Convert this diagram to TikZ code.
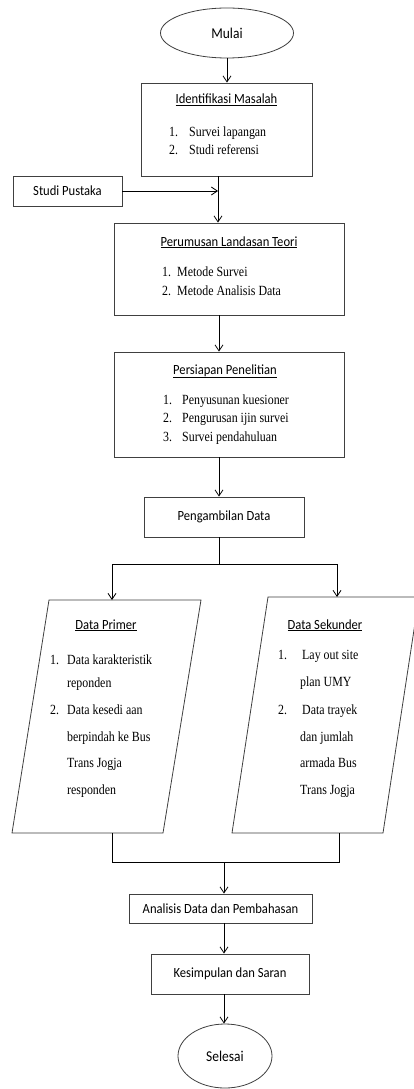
\documentclass[tikz,border=0pt]{standalone}
\usepackage{fontspec}
\setmainfont{Liberation Serif}
\newfontfamily\titlefont[FakeStretch=0.9]{Carlito}
\newfontfamily\itemfont[FakeStretch=0.85]{Liberation Serif}
\usetikzlibrary{arrows.meta,shapes.geometric}
\begin{document}
\begin{tikzpicture}[x=1pt,y=-1pt,
  box/.style={draw=black!75, line width=0.8pt, rectangle, inner sep=0pt},
  oval/.style={draw=black!75, line width=0.8pt, ellipse, inner sep=0pt},
  shp/.style={draw=black!75, line width=0.8pt},
  ttl/.style={font=\titlefont\fontsize{14}{16}\selectfont, inner sep=0pt},
  ovt/.style={font=\titlefont\fontsize{15}{17}\selectfont, inner sep=0pt},
  ttlb/.style={ttl, anchor=base},
  itm/.style={font=\itemfont\fontsize{14}{19}\selectfont, anchor=base west, inner sep=0pt},
  conn/.style={line width=0.8pt},
  arr/.style={conn, -{Straight Barb[length=6pt,width=8pt]}}
]
\clip (0,0) rectangle (414,1089);
\fill[white] (0,0) rectangle (414,1089);

% start
\node[oval, minimum width=133pt, minimum height=50pt, ovt] (mulai) at (227,33) {Mulai};

% Identifikasi
\node[box, minimum width=171pt, minimum height=93pt] (ident) at (226.5,129.5) {};
\node[ttlb] (identt) at (226.5,104) {\underline{Identifikasi Masalah}};
\node[itm] (i1n) at (169,136) {1.};
\node[itm] (i1) at (189,136) {Survei lapangan};
\node[itm] (i2n) at (169,154) {2.};
\node[itm] (i2) at (189,154) {Studi referensi};

% Studi Pustaka
\node[box, minimum width=109pt, minimum height=30pt, ttl] (pustaka) at (67.5,191) {Studi Pustaka};

% Perumusan
\node[box, minimum width=230pt, minimum height=92pt] (perum) at (229,269) {};
\node[ttlb] (perumt) at (229,246) {\underline{Perumusan Landasan Teori}};
\node[itm] (p1n) at (162,276) {1.};
\node[itm] (p1) at (177,276) {Metode Survei};
\node[itm] (p2n) at (162,295) {2.};
\node[itm] (p2) at (177,295) {Metode Analisis Data};

% Persiapan
\node[box, minimum width=230pt, minimum height=105pt] (persiap) at (229,404.5) {};
\node[ttlb] (persiapt) at (225,374) {\underline{Persiapan Penelitian}};
\node[itm] (s1n) at (163,404) {1.};
\node[itm] (s1) at (182,404) {Penyusunan kuesioner};
\node[itm] (s2n) at (163,422) {2.};
\node[itm] (s2) at (182,422) {Pengurusan ijin survei};
\node[itm] (s3n) at (163,441) {3.};
\node[itm] (s3) at (182,441) {Survei pendahuluan};

% Pengambilan Data
\node[box, minimum width=160pt, minimum height=40pt, ttl] (ambil) at (224,517) {Pengambilan Data};

% Data Primer
\coordinate (pa) at (49,600);
\coordinate (pb) at (201,600);
\coordinate (pc) at (163,833);
\coordinate (pd) at (12,833);
\draw[shp] (pa) -- (pb) -- (pc) -- (pd) -- cycle;
\coordinate (primtop) at (112,600);
\coordinate (primbot) at (112,833);
\node[ttlb] (primt) at (106,629) {\underline{Data Primer}};
\node[itm] (dp1n) at (50,664) {1.};
\node[itm] (dp1) at (67,664) {Data karakteristik};
\node[itm] (dp1b) at (67,687) {reponden};
\node[itm] (dp2n) at (50,714) {2.};
\node[itm] (dp2) at (67,714) {Data kesedi aan};
\node[itm] (dp2b) at (67,741) {berpindah ke Bus};
\node[itm] (dp2c) at (67,767) {Trans Jogja};
\node[itm] (dp2d) at (67,794) {responden};

% Data Sekunder
\coordinate (sa) at (268,597);
\coordinate (sb) at (419,597);
\coordinate (sc) at (383,833);
\coordinate (sd) at (232,833);
\draw[shp] (sa) -- (sb) -- (sc) -- (sd) -- cycle;
\coordinate (sektop) at (337,597);
\coordinate (sekbot) at (339,833);
\node[ttlb] (sekt) at (325,629) {\underline{Data Sekunder}};
\node[itm] (ds1n) at (278,659) {1.};
\node[itm] (ds1) at (302,659) {Lay out site};
\node[itm] (ds1b) at (300,686) {plan UMY};
\node[itm] (ds2n) at (278,714) {2.};
\node[itm] (ds2) at (302,714) {Data trayek};
\node[itm] (ds2b) at (300,741) {dan jumlah};
\node[itm] (ds2c) at (300,767) {armada Bus};
\node[itm] (ds2d) at (300,794) {Trans Jogja};

% Analisis, Kesimpulan, Selesai
\node[box, minimum width=183pt, minimum height=29pt, ttl] (anal) at (220.5,908.5) {Analisis Data dan Pembahasan};
\node[box, minimum width=158pt, minimum height=40pt, ttl] (kes) at (230,974) {Kesimpulan dan Saran};
\node[oval, minimum width=94pt, minimum height=64pt, ovt] (sel) at (225,1056) {Selesai};

% connectors
\coordinate (col1) at (218,0);
\coordinate (col2) at (219,0);
\coordinate (split) at (219,564);
\coordinate (merge) at (224,862);

\draw[arr] (mulai.south) -- (mulai.south |- ident.north);
\draw[arr] (ident.south -| col1) -- (perum.north -| col1);
\draw[arr] (pustaka.east) -- (pustaka.east -| col1);
\draw[arr] (perum.south -| col2) -- (persiap.north -| col2);
\draw[arr] (persiap.south -| col2) -- (ambil.north -| col2);
\draw[conn] (ambil.south -| col2) -- (split);
\draw[conn] (primtop |- split) -- (sektop |- split);
\draw[arr] (primtop |- split) -- (primtop);
\draw[arr] (sektop |- split) -- (sektop);
\draw[conn] (primbot) -- (primbot |- merge) -- (sekbot |- merge) -- (sekbot);
\draw[arr] (merge) -- (merge |- anal.north);
\draw[arr] (anal.south -| merge) -- (kes.north -| merge);
\draw[arr] (kes.south -| merge) -- (sel.north -| merge);
\end{tikzpicture}
\end{document}
